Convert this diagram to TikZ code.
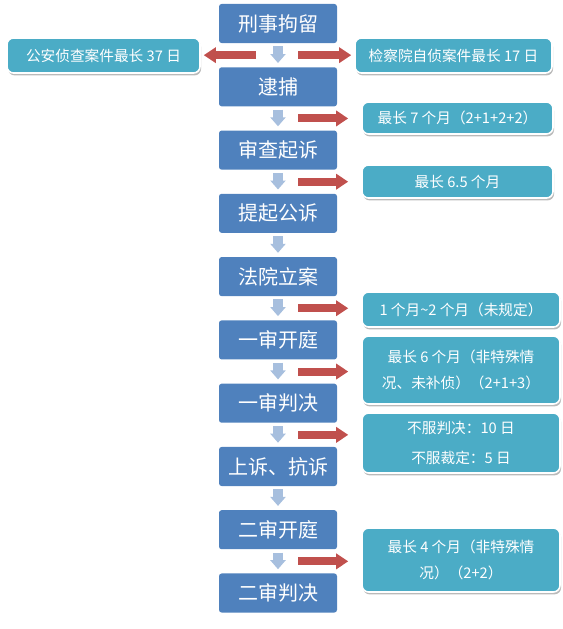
\documentclass[tikz,border=0pt]{standalone}
\usepackage{fontspec}
\setmainfont{Noto Sans CJK SC}
\usetikzlibrary{calc,arrows.meta,shadows}

\definecolor{stepblue}{HTML}{4F81BD}
\definecolor{noteteal}{HTML}{4BACC6}
\definecolor{arrowred}{HTML}{C0504D}
\definecolor{arrowblue}{HTML}{A7BFDE}

\tikzset{
  stagebox/.style={fill=stepblue, rounded corners=2pt, inner sep=0pt,
    minimum width=88.5pt, minimum height=29.3pt, text=white,
    font=\fontsize{15}{18}\selectfont},
  notebox/.style={fill=noteteal, draw=white, line width=1.2pt, rounded corners=5pt,
    inner sep=0pt, align=center, text=white, font=\fontsize{11}{19}\selectfont,
    drop shadow={shadow xshift=0.8pt, shadow yshift=-1.8pt, fill=black!45, opacity=0.6}},
  stepdown/.style={arrowblue, line width=7.5pt, -{Triangle[length=6.75pt,width=11.25pt]},
    shorten <=2.25pt, shorten >=3pt},
  timeline/.style={arrowred, line width=6pt, -{Triangle[length=9pt,width=11.25pt]}},
  timeglow/.style={red!18, line width=6pt, -{Triangle[length=9pt,width=11.25pt]},
    xshift=0.8pt, yshift=-1.5pt},
}

\begin{document}
\begin{tikzpicture}[x=0.75pt, y=-0.75pt]
  \useasboundingbox (0,0) rectangle (563,629);

  %--- procedure stages ---
  \node[stagebox] (b1)  at (278,23.5)  {刑事拘留};
  \node[stagebox] (b2)  at (278,86.8)  {逮捕};
  \node[stagebox] (b3)  at (278,150.1) {审查起诉};
  \node[stagebox] (b4)  at (278,213.3) {提起公诉};
  \node[stagebox] (b5)  at (278,276.6) {法院立案};
  \node[stagebox] (b6)  at (278,339.9) {一审开庭};
  \node[stagebox] (b7)  at (278,403.2) {一审判决};
  \node[stagebox] (b8)  at (278,466.5) {上诉、抗诉};
  \node[stagebox] (b9)  at (278,529.7) {二审开庭};
  \node[stagebox] (b10) at (278,593)   {二审判决};

  %--- time limits ---
  \node[notebox, minimum width=144.8pt, minimum height=26.3pt] (t0) at (103.5,55.5) {公安侦查案件最长 37 日};
  \node[notebox, minimum width=147.8pt, minimum height=26.3pt] (t1) at (453.5,55.5) {检察院自侦案件最长 17 日};
  \node[notebox, minimum width=143.3pt, minimum height=24pt]   (t2) at (457.5,118)  {最长 7 个月（2+1+2+2）};
  \node[notebox, minimum width=143.3pt, minimum height=24.8pt] (t3) at (457.5,181.5) {最长 6.5 个月};
  \node[notebox, minimum width=148.5pt, minimum height=26.3pt] (t4) at (461,309.5) {1 个月\textasciitilde 2 个月（未规定）};
  \node[notebox, minimum width=148.5pt, minimum height=51pt]   (t5) at (461,370)  {最长 6 个月（非特殊情\\况、未补侦）（2+1+3）};
  \node[notebox, minimum width=148.5pt, minimum height=45pt]   (t6) at (461,443)  {不服判决：10 日\\[3pt]不服裁定：5 日};
  \node[notebox, minimum width=148.5pt, minimum height=48pt]   (t7) at (461,560)  {最长 4 个月（非特殊情\\况）（2+2）};

  %--- gaps between stages ---
  \coordinate (g1) at ($(b1.south)!0.5!(b2.north)$);
  \coordinate (g2) at ($(b2.south)!0.5!(b3.north)$);
  \coordinate (g3) at ($(b3.south)!0.5!(b4.north)$);
  \coordinate (g5) at ($(b5.south)!0.5!(b6.north)$);
  \coordinate (g6) at ($(b6.south)!0.5!(b7.north)$);
  \coordinate (g7) at ($(b7.south)!0.5!(b8.north)$);
  \coordinate (g9) at ($(b9.south)!0.5!(b10.north)$);

  %--- down arrows ---
  \draw[stepdown] (b1) -- (b2);
  \draw[stepdown] (b2) -- (b3);
  \draw[stepdown] (b3) -- (b4);
  \draw[stepdown] (b4) -- (b5);
  \draw[stepdown] (b5) -- (b6);
  \draw[stepdown] (b6) -- (b7);
  \draw[stepdown] (b7) -- (b8);
  \draw[stepdown] (b8) -- (b9);
  \draw[stepdown] (b9) -- (b10);

  %--- red arrows to the time limits ---
  \draw[timeglow, shorten >=2.25pt] ([xshift=-16.5pt]g1) -- (g1 -| t0.east);
  \draw[timeline, shorten >=2.25pt] ([xshift=-16.5pt]g1) -- (g1 -| t0.east);
  \draw[timeglow, shorten >=2.25pt] ([xshift=15pt]g1) -- (g1 -| t1.west);
  \draw[timeline, shorten >=2.25pt] ([xshift=15pt]g1) -- (g1 -| t1.west);
  \draw[timeglow, shorten >=9.75pt] ([xshift=15pt]g2) -- (g2 -| t2.west);
  \draw[timeline, shorten >=9.75pt] ([xshift=15pt]g2) -- (g2 -| t2.west);
  \draw[timeglow, shorten >=9.75pt] ([xshift=15pt]g3) -- (g3 -| t3.west);
  \draw[timeline, shorten >=9.75pt] ([xshift=15pt]g3) -- (g3 -| t3.west);
  \draw[timeglow, shorten >=9.75pt] ([xshift=15pt]g5) -- (g5 -| t4.west);
  \draw[timeline, shorten >=9.75pt] ([xshift=15pt]g5) -- (g5 -| t4.west);
  \draw[timeglow, shorten >=9.75pt] ([xshift=15pt]g6) -- (g6 -| t5.west);
  \draw[timeline, shorten >=9.75pt] ([xshift=15pt]g6) -- (g6 -| t5.west);
  \draw[timeglow, shorten >=9.75pt] ([xshift=15pt]g7) -- (g7 -| t6.west);
  \draw[timeline, shorten >=9.75pt] ([xshift=15pt]g7) -- (g7 -| t6.west);
  \draw[timeglow, shorten >=9.75pt] ([xshift=15pt]g9) -- (g9 -| t7.west);
  \draw[timeline, shorten >=9.75pt] ([xshift=15pt]g9) -- (g9 -| t7.west);

\end{tikzpicture}
\end{document}
